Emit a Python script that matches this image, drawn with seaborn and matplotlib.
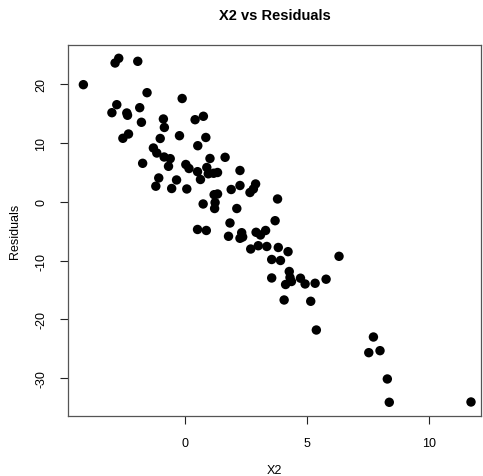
import numpy as np
import pandas as pd
import matplotlib
matplotlib.use("Agg")
import matplotlib.pyplot as plt
import seaborn as sns

x2 = [-4.17, -2.87, -2.72, -1.94, -1.56, -0.12, -2.80, -3.00, -2.39, -2.36,
      -1.86, -1.79, -0.89, -0.85, 0.41, 0.75, -2.55, -2.32, -1.02, -0.23,
      0.85, 0.52, -1.30, -1.16, -0.86, -0.61, -1.74, -0.68, 1.02, 1.64,
      0.03, 0.16, 0.51, 0.89, 0.95, 1.17, 1.33, 0.63, -1.08, -0.35,
      -1.20, -0.55, 0.07, 2.25, 1.89, 2.25, 2.66, 2.80, 2.89, 1.19,
      1.33, 3.79, 0.74, 1.23, 1.21, 2.12, 3.69, 1.84, 0.51, 0.87,
      1.78, 2.32, 2.25, 2.36, 2.91, 3.09, 3.30, 2.69, 3.00, 3.35,
      3.82, 4.22, 3.55, 3.91, 6.31, 4.27, 3.55, 4.30, 4.36, 4.12,
      4.73, 4.92, 5.33, 5.78, 4.06, 5.15, 5.38, 7.72, 7.53, 7.99,
      8.29, 8.37, 11.72]
residuals = [19.88, 23.56, 24.36, 23.85, 18.52, 17.53, 16.48, 15.12, 15.07, 14.68,
             15.97, 13.49, 14.05, 12.61, 13.93, 14.51, 10.77, 11.50, 10.74, 11.21,
             10.91, 9.51, 9.12, 8.27, 7.59, 7.31, 6.52, 6.01, 7.34, 7.54,
             6.32, 5.64, 5.10, 5.81, 4.74, 4.83, 4.96, 3.77, 4.03, 3.69,
             2.63, 2.24, 2.16, 5.30, 2.07, 2.75, 1.56, 2.16, 3.01, 1.19,
             1.31, 0.46, -0.39, -0.14, -1.16, -1.16, -3.23, -3.62, -4.72, -4.89,
             -5.88, -5.27, -6.22, -6.00, -5.20, -5.66, -4.89, -8.04, -7.48, -7.61,
             -7.78, -8.49, -9.82, -9.99, -9.28, -11.86, -12.96, -12.88, -13.56, -14.07,
             -13.00, -13.98, -13.86, -13.17, -16.70, -16.92, -21.80, -22.99, -25.65, -25.31,
             -30.12, -34.08, -34.03]
x_ticks = [0, 5, 10]
y_ticks = [-30, -20, -10, 0, 10, 20]

df = pd.DataFrame({"X2": x2, "Residuals": residuals})

sns.set_style("white")
plt.rcParams["font.family"] = ["Liberation Sans", "DejaVu Sans"]
plt.rcParams["text.color"] = "black"
plt.rcParams["axes.labelcolor"] = "black"
plt.rcParams["xtick.color"] = "black"
plt.rcParams["ytick.color"] = "black"

fig = plt.figure(figsize=(4.83, 4.77), dpi=100)
ax = fig.add_axes([68 / 483, 1 - 417 / 477, (481 - 68) / 483, (417 - 46) / 477])

sns.scatterplot(data=df, x="X2", y="Residuals", ax=ax, color="black",
                s=46, edgecolor="none", linewidth=0)

ax.set_xlim(-4.80, 12.13)
ax.set_ylim(-36.41, 26.62)
ax.set_xticks(x_ticks)
ax.set_yticks(y_ticks)
ax.set_xticklabels([str(t) for t in x_ticks], fontsize=9)
ax.set_yticklabels([str(t) for t in y_ticks], fontsize=9, rotation=90, va="center")
ax.tick_params(axis="both", direction="out", length=6, width=0.8, color="#222222",
               labelcolor="black", bottom=True, left=True)
ax.tick_params(axis="x", pad=9)
ax.tick_params(axis="y", pad=9)
for sp in ax.spines.values():
    sp.set_visible(True)
    sp.set_color("#555555")
    sp.set_linewidth(0.9)

ax.set_xlabel("X2", fontsize=9, color="black")
ax.set_ylabel("Residuals", fontsize=9, color="black")
ax.xaxis.set_label_coords(0.5, (417 - 471) / 371)
ax.yaxis.set_label_coords((15 - 68) / 413, 0.5)
ax.xaxis.label.set_va("center")
ax.yaxis.label.set_va("center")
ax.text(0.5, (417 - 16) / 371, "X2 vs Residuals", transform=ax.transAxes,
        ha="center", va="center", fontsize=10.5, fontweight="bold", color="black")

fig.savefig("out.png", dpi=100, facecolor="white")
